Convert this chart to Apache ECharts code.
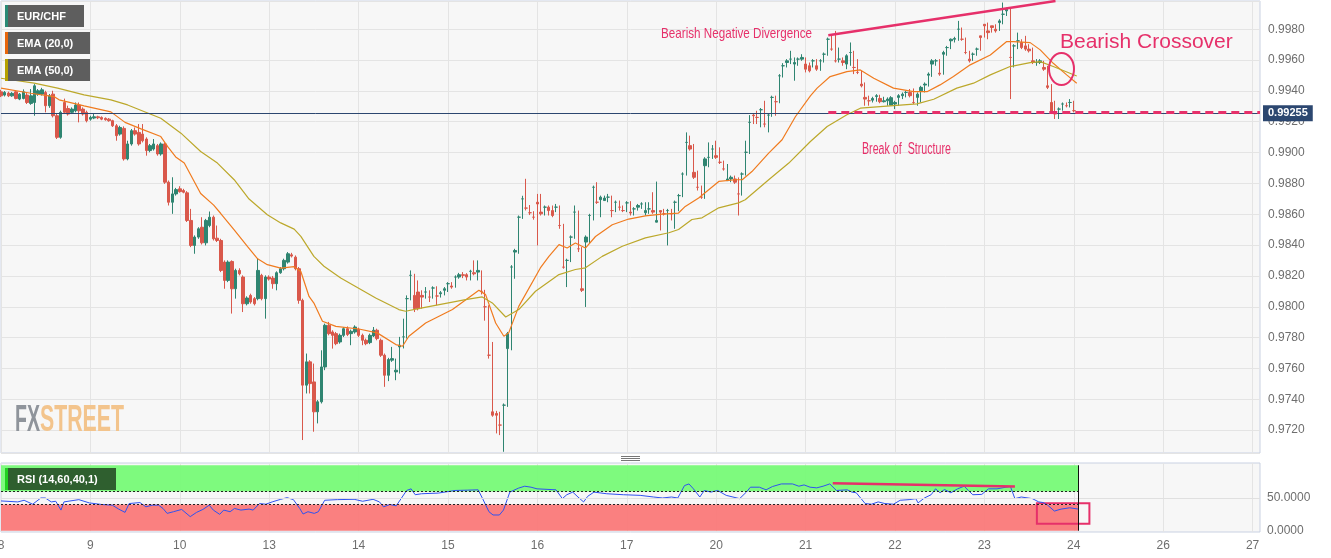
<!DOCTYPE html>
<html><head><meta charset="utf-8">
<script src="https://cdn.jsdelivr.net/npm/echarts@6/dist/echarts.min.js"></script>
<style>html,body{margin:0;padding:0;background:#fff;}#c{width:1331px;height:558px;}</style>
</head><body><div id="c"></div>
<script>
// ---- data (prices in pips: value / 10000) ----
const dayLabels = ['8','9','10','13','14','15','16','17','20','21','22','23','24','26','27'];
const hoursPerDay = 24;
const totalSlots = 339;
const priceTicks = [0.972,0.974,0.976,0.978,0.980,0.982,0.984,0.986,0.988,0.990,0.992,0.994,0.996,0.998];
const rsiTicks = [0, 50];
const opens = [9939.4,9937.3,9938.6,9936.8,9939.4,9934.7,9935.1,9937.3,9931.9,9932.5,9937.9,9937.9,9939.0,9930.4,9937.9,9923.9,9909.9,9932.5,9928.6,9926.1,9927.1,9930.8,9928.2,9926.1,9921.7,9922.4,9923.2,9922.8,9922.2,9921.7,9920.7,9917.4,9912.0,9915.7,9895.9,9905.6,9914.2,9913.1,9912.0,9908.8,9901.3,9902.3,9904.5,9899.1,9905.6,9880.8,9867.8,9873.2,9876.5,9875.4,9873.9,9856.0,9839.8,9845.2,9851.6,9841.5,9852.7,9858.1,9844.5,9843.0,9829.0,9817.1,9829.4,9811.7,9823.6,9819.3,9802.0,9807.4,9805.3,9805.3,9820.4,9805.3,9819.3,
9818.6,9815.0,9822.1,9824.7,9829.0,9833.7,9832.2,9824.7,9804.2,9749.2,9764.3,9751.3,9731.9,9738.4,9761.0,9788.0,9783.7,9782.6,9777.2,9781.5,9785.8,9782.6,9783.7,9785.4,9781.5,9778.3,9776.8,9781.1,9784.8,9778.3,9768.6,9755.6,9765.4,9757.8,9774.0,9780.5,9805.3,9820.4,9807.4,9809.6,9807.4,9809.6,9806.3,9812.2,9807.0,9808.5,9810.7,9815.0,9813.5,9819.3,9819.3,9820.8,9820.8,9823.0,9822.1,9822.5,9810.0,9800.0,9768.6,9731.9,9730.8,9723.3,9736.2,9772.9,9825.8,9835.5,9858.1,9870.0,9864.0,9861.0,9858.1,
9867.8,9861.4,9864.6,9864.6,9862.4,9864.6,9852.7,9825.7,9830.1,9845.2,9861.4,9837.6,9811.7,9842.0,9859.2,9877.5,9867.8,9869.5,9868.9,9871.1,9862.4,9867.8,9864.6,9862.4,9867.4,9861.4,9863.5,9864.6,9866.7,9861.0,9863.5,9862.4,9854.9,9862.4,9860.3,9862.4,9860.3,9867.8,9872.1,9886.1,9906.6,9904.5,9887.2,9877.5,9871.1,9891.5,9896.9,9902.3,9898.0,9893.7,9889.4,9881.8,9882.9,9882.9,9873.2,9886.1,9900.2,9919.6,9924.3,9922.8,9927.8,9918.5,9924.3,9935.8,9933.0,9949.8,9956.3,9958.4,9960.6,9957.4,9960.6,
9960.6,9957.4,9956.3,9959.5,9956.3,9959.5,9963.8,9973.5,9967.1,9959.5,9960.6,9959.5,9957.4,9964.9,9955.2,9952.0,9944.4,9935.8,9933.6,9934.0,9936.4,9935.1,9933.0,9933.6,9930.8,9931.5,9935.8,9936.9,9939.0,9939.0,9932.5,9935.8,9940.1,9943.8,9950.2,9957.4,9959.5,9951.5,9963.8,9968.1,9972.5,9973.5,9980.0,9973.5,9964.9,9960.6,9963.8,9967.1,9975.7,9983.2,9978.9,9982.2,9980.0,9984.3,9989.7,9991.9,9961.7,9969.2,9972.5,9971.4,9969.2,9967.1,9959.5,9958.4,9958.4,9955.2,9943.3,9932.5,9926.1,9928.2,9931.5,9930.4,9932.5,9927.2];
const closes = [9936.8,9939.0,9936.8,9938.4,9935.1,9937.9,9939.4,9932.5,9936.8,9943.3,9940.1,9940.7,9930.4,9936.8,9923.9,9909.9,9926.1,9926.1,9925.0,9928.2,9930.8,9927.1,9925.0,9920.7,9922.8,9923.2,9922.6,9921.7,9921.3,9920.7,9917.4,9911.0,9916.3,9895.9,9905.6,9914.2,9912.0,9905.6,9907.7,9901.3,9904.5,9905.6,9899.1,9905.6,9880.8,9867.8,9873.2,9876.0,9874.7,9874.3,9856.0,9839.8,9845.2,9850.6,9841.5,9856.0,9858.1,9844.1,9843.0,9823.6,9817.1,9829.0,9811.7,9823.6,9821.4,9802.0,9805.7,9803.1,9802.0,9823.6,9805.3,9819.3,9818.0,
9815.0,9822.1,9824.7,9830.1,9834.4,9832.9,9824.7,9804.2,9749.2,9764.3,9750.2,9731.9,9738.4,9761.0,9788.0,9782.6,9781.5,9776.1,9781.5,9785.8,9782.0,9784.1,9786.9,9781.5,9778.3,9776.1,9781.5,9784.8,9779.4,9768.6,9755.6,9765.8,9766.4,9758.9,9775.1,9780.5,9805.3,9820.4,9798.8,9798.8,9806.3,9809.6,9806.3,9812.2,9807.0,9809.1,9811.7,9815.0,9812.8,9819.3,9820.8,9820.4,9819.3,9823.0,9821.4,9823.6,9810.0,9800.0,9768.6,9729.7,9729.7,9723.3,9736.2,9782.6,9825.8,9836.5,9858.1,9870.0,9864.0,9861.0,9858.1,9866.7,
9860.3,9864.6,9862.4,9859.2,9864.6,9852.7,9825.7,9830.1,9845.2,9861.4,9837.6,9810.7,9845.2,9859.2,9877.5,9867.8,9871.1,9870.5,9871.1,9862.4,9867.8,9864.6,9862.4,9867.4,9860.8,9863.5,9865.7,9866.7,9862.4,9863.5,9861.4,9856.0,9861.4,9860.3,9862.4,9860.3,9867.8,9872.1,9886.1,9906.6,9902.3,9884.0,9877.5,9871.1,9895.9,9896.9,9902.3,9896.9,9893.7,9889.4,9882.9,9884.0,9880.8,9873.2,9886.1,9900.2,9919.6,9923.9,9922.8,9927.8,9918.5,9924.3,9935.8,9933.0,9949.8,9956.3,9959.5,9960.6,9958.4,9960.6,9961.7,
9954.1,9953.0,9959.5,9954.1,9959.5,9963.8,9973.5,9967.1,9959.5,9960.6,9958.4,9962.8,9964.9,9955.2,9952.0,9943.3,9934.7,9933.6,9935.1,9936.9,9933.0,9933.6,9934.7,9935.6,9932.5,9936.9,9937.9,9939.0,9936.9,9932.5,9937.9,9942.3,9944.4,9950.9,9959.5,9959.5,9950.9,9964.9,9968.1,9973.5,9974.0,9980.0,9973.5,9964.9,9959.5,9963.8,9967.1,9974.6,9982.2,9977.8,9981.1,9978.9,9985.4,9989.7,9993.0,9961.7,9969.2,9972.5,9968.1,9967.1,9966.0,9958.4,9958.4,9959.5,9954.1,9942.3,9926.1,9925.0,9928.2,9931.5,9930.4,9932.5,9927.2,9925.5];
const highs = [9940.7,9939.9,9939.5,9939.2,9940.3,9938.6,9941.0,9938.6,9941.2,9944.4,9941.2,9942.0,9940.1,9938.0,9940.1,9925.0,9927.2,9935.0,9930.4,9929.3,9932.5,9932.5,9929.3,9927.2,9923.9,9925.0,9923.9,9923.5,9922.8,9922.4,9921.3,9918.5,9917.4,9917.0,9907.7,9915.3,9916.3,9918.5,9918.5,9909.9,9905.6,9908.8,9905.6,9906.6,9906.6,9881.9,9884.0,9877.1,9878.2,9876.5,9875.0,9863.5,9846.3,9851.6,9858.1,9857.0,9861.8,9859.2,9852.7,9844.1,9830.1,9830.1,9830.1,9824.7,9825.0,9820.4,9806.8,9808.5,9806.3,9831.2,9821.4,9820.4,9820.4,
9820.0,9823.0,9825.8,9831.2,9835.5,9835.0,9833.3,9825.8,9805.3,9769.7,9765.4,9763.2,9739.5,9771.8,9789.1,9790.2,9784.8,9783.7,9782.6,9786.9,9787.3,9785.2,9788.0,9786.5,9782.6,9779.4,9782.6,9786.9,9785.8,9779.4,9769.7,9766.9,9774.0,9766.4,9780.5,9792.3,9807.4,9823.6,9821.4,9817.1,9810.7,9812.8,9810.7,9813.3,9813.3,9810.2,9812.8,9816.0,9816.0,9820.4,9822.0,9822.5,9821.8,9824.0,9830.1,9830.1,9823.6,9811.0,9801.0,9777.2,9732.5,9731.9,9737.3,9783.7,9827.0,9837.6,9859.2,9872.0,9883.0,9866.0,9862.0,9873.2,
9873.2,9865.7,9865.7,9865.7,9866.7,9865.7,9853.8,9831.2,9846.3,9865.7,9862.4,9838.7,9846.3,9860.3,9878.6,9880.8,9872.1,9872.1,9873.2,9872.1,9868.9,9868.9,9865.7,9868.5,9868.5,9864.6,9866.7,9867.8,9867.8,9867.8,9874.3,9881.2,9862.4,9863.5,9863.5,9863.5,9868.9,9873.2,9887.2,9913.1,9911.0,9905.6,9888.3,9878.6,9897.0,9906.6,9904.9,9907.7,9903.4,9894.8,9892.6,9885.1,9885.1,9883.9,9887.2,9907.7,9924.3,9925.0,9927.1,9928.9,9933.6,9925.4,9936.9,9936.9,9950.9,9958.0,9960.6,9966.0,9961.7,9961.7,9963.8,
9961.7,9958.4,9960.6,9960.6,9960.6,9964.9,9974.6,9975.7,9978.9,9968.1,9961.7,9963.8,9971.4,9966.0,9960.6,9953.0,9945.5,9936.9,9936.2,9937.9,9937.5,9936.2,9935.8,9936.6,9933.6,9937.9,9939.0,9940.1,9941.2,9941.6,9939.0,9943.3,9945.5,9952.0,9960.6,9960.6,9960.6,9966.0,9969.2,9974.0,9975.1,9985.4,9981.1,9974.6,9966.0,9964.9,9968.1,9975.7,9983.2,9984.3,9982.2,9983.2,9986.5,9997.3,9994.0,9994.0,9970.3,9977.8,9973.5,9975.7,9970.3,9968.1,9960.6,9960.6,9959.5,9956.3,9944.4,9933.6,9929.3,9932.5,9932.5,9934.7,9933.6,9928.2];
const lows = [9936.0,9936.4,9936.0,9936.2,9934.5,9934.0,9934.5,9931.5,9931.0,9923.9,9936.8,9937.0,9926.1,9929.0,9922.8,9908.8,9909.0,9925.0,9924.0,9925.0,9926.1,9919.6,9924.0,9919.6,9920.7,9921.7,9921.7,9921.0,9920.7,9920.0,9916.6,9907.7,9911.0,9894.8,9895.0,9904.5,9911.0,9904.5,9906.6,9898.0,9900.2,9901.3,9898.0,9898.0,9879.7,9865.7,9860.3,9872.1,9874.0,9873.6,9855.0,9838.7,9834.4,9844.1,9840.4,9839.8,9851.6,9843.0,9842.0,9822.5,9811.7,9816.0,9795.6,9805.3,9820.4,9796.6,9800.9,9802.0,9800.9,9804.2,9804.2,9792.3,9817.0,
9811.7,9810.7,9821.4,9823.6,9828.0,9832.0,9823.6,9802.0,9713.6,9743.8,9743.8,9719.0,9724.4,9737.3,9758.9,9781.5,9772.9,9775.1,9776.1,9780.4,9781.0,9775.1,9782.6,9780.4,9775.1,9775.1,9775.8,9780.4,9778.3,9767.5,9748.1,9751.8,9764.3,9752.4,9756.7,9773.0,9779.4,9804.2,9796.6,9797.7,9798.8,9805.3,9803.1,9805.3,9801.0,9806.0,9807.4,9809.6,9811.7,9812.4,9818.2,9818.6,9817.1,9817.1,9820.4,9817.1,9808.0,9791.0,9766.4,9728.7,9717.9,9716.8,9706.0,9735.1,9771.8,9818.2,9834.4,9857.0,9862.5,9859.5,9856.5,9839.8,
9859.2,9859.2,9859.2,9858.1,9861.4,9850.6,9824.7,9812.8,9829.0,9844.1,9835.5,9809.6,9799.9,9841.0,9856.0,9866.7,9858.1,9868.9,9867.8,9858.1,9861.4,9862.4,9861.4,9861.4,9859.2,9859.2,9862.4,9863.5,9859.2,9860.3,9860.3,9855.0,9849.5,9859.2,9839.8,9856.0,9850.6,9862.0,9871.1,9885.1,9901.3,9882.9,9875.4,9870.0,9870.0,9890.5,9895.9,9895.9,9892.6,9888.3,9881.8,9880.8,9879.7,9859.2,9872.1,9885.1,9899.1,9918.5,9918.5,9916.4,9916.4,9913.1,9923.2,9923.9,9932.0,9948.7,9955.2,9957.4,9946.6,9956.3,9959.5,
9952.0,9952.0,9955.2,9953.0,9953.0,9958.4,9962.8,9966.0,9958.4,9958.4,9956.3,9954.1,9956.3,9950.9,9950.9,9942.3,9930.4,9930.4,9932.5,9933.0,9932.0,9932.5,9930.4,9932.5,9928.2,9930.4,9934.7,9935.8,9935.8,9931.5,9930.4,9932.5,9939.0,9942.8,9949.1,9956.3,9949.8,9950.5,9962.8,9967.1,9971.4,9972.5,9972.5,9963.8,9958.4,9959.5,9962.8,9966.0,9974.6,9973.5,9977.8,9977.8,9978.9,9983.2,9988.6,9934.7,9955.2,9967.1,9967.1,9966.0,9964.9,9957.4,9956.3,9957.4,9953.0,9941.2,9925.0,9921.8,9921.8,9927.2,9929.3,9929.3,9926.1,9922.8];
const ema20Slot = [0,8.0,14.2,15.6,22.3,29.5,33.3,37.6,42.9,44.8,46.9,49.2,53.6,57.1,59.0,62.6,66.2,68.9,71.5,75.1,78.7,80.5,82.7,84.0,86.3,89.9,96.1,101.0,106.0,107.8,109.5,114.0,121.2,128.3,130.1,132.8,135.0,136.3,139.0,144.8,147.1,149.8,152.0,154.2,156.9,159.6,164.1,168.5,173.0,177.5,181.9,183.7,187.3,190.0,192.7,197.2,199.0,201.6,206.1,209.7,213.3,217.3,219.1,222.6,227.1,230.7,234.3,239.6,245.0,248.6,252.1,255.7,260.2,265.6,270.0,271.8,276.3,279.0,282.5,286.1,288.8];
const ema20Val = [9941.8,9938.5,9936.3,9934.2,9930.3,9926.4,9919.6,9915.4,9910.4,9903.7,9897.2,9893.2,9873.5,9865.9,9860.5,9849.9,9839.1,9831.1,9827.3,9825.1,9826.0,9822.9,9806.7,9802.4,9790.6,9787.3,9785.6,9783.1,9775.5,9774.4,9780.9,9789.5,9798.2,9810.7,9807.9,9789.5,9780.9,9783.1,9800.3,9825.2,9832.7,9840.3,9838.1,9841.4,9838.1,9845.6,9853.2,9856.9,9859.0,9860.1,9860.8,9865.1,9870.5,9875.9,9881.3,9882.4,9882.4,9887.7,9899.7,9908.3,9923.4,9936.8,9941.8,9949.3,9952.5,9953.6,9948.2,9941.8,9939.5,9939.5,9943.9,9949.3,9956.9,9963.3,9972.0,9972.0,9971.3,9966.6,9957.9,9950.4,9945.0];
const ema50Slot = [0,8.9,15.2,22.3,29.5,34.0,42.9,48.3,53.6,58.1,62.6,66.6,71.5,75.1,78.7,80.5,84.0,86.7,91.2,100.6,106.8,108.6,113.1,124.7,129.2,131.9,135.5,139.0,143.5,149.8,154.2,156.9,161.4,166.8,173.0,179.3,181.9,185.5,188.2,192.7,198.0,199.8,206.1,211.5,217.3,221.8,227.1,230.7,238.7,245.9,250.4,256.6,261.1,265.6,270.9,276.3,279.0,282.5,288.8];
const ema50Val = [9948.2,9945.0,9941.8,9937.4,9934.2,9930.9,9922.3,9912.6,9900.7,9893.2,9882.4,9869.9,9859.7,9854.4,9850.4,9845.7,9832.7,9826.3,9818.7,9805.7,9798.2,9797.1,9799.3,9804.6,9806.4,9802.5,9793.4,9798.2,9810.1,9820.9,9824.2,9825.3,9832.7,9839.3,9844.7,9848.0,9850.1,9856.6,9857.7,9864.2,9867.4,9869.4,9882.4,9893.2,9907.2,9916.9,9924.5,9928.8,9930.3,9931.6,9934.6,9941.8,9945.0,9950.4,9955.8,9958.3,9959.0,9955.8,9949.7];
const rsiSlot = [0,4.5,6.2,8.5,10.7,11.9,13.5,14.7,16.1,16.9,20.9,23.7,27.1,29.9,31.6,33.3,34.4,37.3,38.9,40.6,42.3,43.5,44.6,46.3,48.5,50.8,52.5,54.2,55.9,57,58.7,59.8,61.5,62.7,64.4,66.6,67.7,69.4,71.1,72.8,75.1,76.8,78.5,80.2,81.1,82.4,84.1,85.2,86.9,90.3,94.8,97.1,99.9,101.6,102.7,104.4,106.1,108.9,110.1,111.2,112.9,117.4,121.9,125.3,128.1,129.3,131,132.1,133.8,134.9,136.6,138.9,140.6,142.3,143.9,149,150.7,151.9,153.5,154.9,156.4,157.5,159.2,162.6,167.1,171.6,175.2,177.6,180,181.7,183.5,184.7,185.9,187.6,188.8,190.6,192.4,194.7,196.5,198.3,200.1,201.2,203.6,205.4,207.1,209.5,212.5,214.2,215.6,217.2,219,220.7,222.5,224.3,227.2,228.4,229.6,232,233.7,235.5,237.3,239.6,241.4,243.8,245.6,246.2,247.9,249.7,250.9,252.1,253.3,255,256.8,258.6,259.7,260.9,263.3,265.1,267.4,269.8,271,272.2,273.9,276.9,278.6,279.8,281,282.8,284.6,286.9,289.3];
const rsiVal = [45.5,44,46.5,40.5,50,50,44,45,31.5,44,47.5,42.5,40,39,33,28,41.5,43,36.5,39,39,34,26.5,29,32.5,21.5,28,32.5,39,31.5,25,31.5,29,34,31.5,33,31.5,41.5,40.5,44,48,50.5,47.5,34,25.5,29,26.5,29,46.5,47.5,48,45,48,44,36.5,40,38,61.5,64,55,56.5,57.5,61.5,62,62.5,49,29,24,24,31.5,59,65,68,66.5,64,62.5,49,55,59,51.5,44,52.5,59,56.5,55,54,51.5,50,51.5,50,69,71.5,64,51.5,61.5,59,61.5,54,51.5,49,59,66.5,66.5,62.5,67.5,71.5,71.5,68,70,66.5,65.5,68,71.5,61.5,62.5,59,58,41.5,40.5,44,41.5,40.5,46.5,47.5,49,42.5,50,55,64,58,63,58,64,68,61.5,55,55.5,64,64,66.5,67.5,49,51.5,49,44,43,39,30,33,35,33];
const lastPrice = 0.99255;
const breakLevel = 0.99264;
const divergencePrice = [[222.1, 0.99761], [283.1, 0.99983]];
const divergenceRsi = [[223.3, 72.5], [272.2, 67.6]];
const rsiBox = [[278.1, 10.5], [292.2, 42]];
const lastSlot = 289.3;

// ---- styling ----
const PINK = '#e6306a';
const UP = '#2f8571', DOWN = '#d9584b';
const FONT = 'Liberation Sans, Arial, sans-serif';
const mctx = document.createElement('canvas').getContext('2d');
function fitScale(text, font, target) { mctx.font = font; return target / mctx.measureText(text).width; }

const cats = Array.from({length: totalSlots}, (_, i) => String(i));
const candleData = opens.map((o, i) => [o / 1e4, closes[i] / 1e4, lows[i] / 1e4, highs[i] / 1e4]);
const ema20 = ema20Slot.map((s, i) => [s, ema20Val[i] / 1e4]);
const ema50 = ema50Slot.map((s, i) => [s, ema50Val[i] / 1e4]);
const rsi = rsiSlot.map((s, i) => [s, rsiVal[i]]);
const dayTick = (idx) => idx % hoursPerDay === 0;
const dayFmt = (v, idx) => (idx % hoursPerDay === 0 && dayLabels[idx / hoursPerDay]) ? dayLabels[idx / hoursPerDay] : '';
const gridCol = '#e4e4e4';

const chart = echarts.init(document.getElementById('c'), null, {renderer: 'canvas'});

function legendBox(y, w, stripe, bg, label) {
  return [
    {type: 'rect', shape: {x: 5, y: y, width: w, height: 22}, style: {fill: bg}, z: 100},
    {type: 'rect', shape: {x: 5, y: y, width: 3, height: 22}, style: {fill: stripe}, z: 101},
    {type: 'text', x: 17, y: y + 11.5, style: {text: label, fill: '#fff', font: 'bold 11px ' + FONT, verticalAlign: 'middle', align: 'left'}, z: 102}
  ];
}

const fontBND = '15px ' + FONT;
const fontBOS = '16px ' + FONT;
const fontWM = 'bold 36px ' + FONT;

const graphics = [].concat(
  legendBox(5, 79, '#2a8a75', '#5e5e5e', 'EUR/CHF'),
  legendBox(32, 85, '#e8660c', '#5e5e5e', 'EMA (20,0)'),
  legendBox(59, 85, '#b5a100', '#5e5e5e', 'EMA (50,0)'),
  legendBox(468, 111, '#22d022', '#2f5f2f', 'RSI (14,60,40,1)'),
  [
    {type: 'text', x: 15, y: 421, scaleX: fitScale('FX', fontWM, 25), style: {text: 'FX', font: fontWM, fill: '#8f949b', verticalAlign: 'middle'}, z: 1},
    {type: 'text', x: 40, y: 421, scaleX: fitScale('STREET', fontWM, 84), style: {text: 'STREET', font: fontWM, fill: '#f3c48c', verticalAlign: 'middle'}, z: 1},
    {type: 'text', x: 661, y: 33.5, scaleX: fitScale('Bearish Negative Divergence', fontBND, 151), style: {text: 'Bearish Negative Divergence', font: fontBND, fill: PINK, verticalAlign: 'middle'}, z: 50},
    {type: 'text', x: 862, y: 149.5, scaleX: fitScale('Break of  Structure', fontBOS, 89), style: {text: 'Break of  Structure', font: fontBOS, fill: PINK, verticalAlign: 'middle'}, z: 50},
    {type: 'text', x: 1060, y: 42.5, style: {text: 'Bearish Crossover', font: '21px ' + FONT, fill: PINK, verticalAlign: 'middle'}, z: 50},
    {type: 'ellipse', shape: {cx: 1061.5, cy: 69, rx: 12.5, ry: 16}, style: {fill: 'none', stroke: PINK, lineWidth: 2}, z: 50},
    {type: 'line', shape: {x1: 621, y1: 456.5, x2: 640, y2: 456.5}, style: {stroke: '#777', lineWidth: 1}},
    {type: 'line', shape: {x1: 621, y1: 458.5, x2: 640, y2: 458.5}, style: {stroke: '#777', lineWidth: 1}},
    {type: 'line', shape: {x1: 621, y1: 460.5, x2: 640, y2: 460.5}, style: {stroke: '#777', lineWidth: 1}}
  ]
);

const option = {
  animation: false,
  backgroundColor: '#ffffff',
  textStyle: {fontFamily: FONT},
  grid: [
    {left: 1, right: 71, top: 1, height: 452, show: true, backgroundColor: '#f7f7f7', borderColor: '#c9d1e2', borderWidth: 1, outerBoundsMode: 'none', containLabel: false},
    {left: 1, right: 71, top: 463, height: 69, show: true, backgroundColor: '#f7f7f7', borderColor: '#c9d1e2', borderWidth: 1, outerBoundsMode: 'none', containLabel: false}
  ],
  xAxis: [
    {type: 'category', gridIndex: 0, data: cats, boundaryGap: false,
     axisLine: {show: false}, axisTick: {show: false}, axisLabel: {show: false, interval: dayTick},
     splitLine: {show: true, interval: dayTick, lineStyle: {color: gridCol}}},
    {type: 'category', gridIndex: 1, data: cats, boundaryGap: false,
     axisLine: {show: false}, axisTick: {show: false},
     axisLabel: {show: true, interval: dayTick, formatter: dayFmt, color: '#6e6e6e', fontSize: 12, margin: 8},
     splitLine: {show: true, interval: dayTick, lineStyle: {color: gridCol}}},
    {type: 'value', gridIndex: 0, min: 0, max: totalSlots - 1, show: false},
    {type: 'value', gridIndex: 1, min: 0, max: totalSlots - 1, show: false}
  ],
  yAxis: [
    {type: 'value', gridIndex: 0, position: 'right', min: 0.97052, max: 0.99983, minInterval: 0.002, maxInterval: 0.002, splitNumber: 14,
     axisLine: {show: false}, axisTick: {show: false},
     axisLabel: {color: '#6e6e6e', fontSize: 12, margin: 8, showMinLabel: false, showMaxLabel: false,
       formatter: (v) => priceTicks.some(t => Math.abs(t - v) < 1e-7) ? v.toFixed(4) : ''},
     splitLine: {show: true, lineStyle: {color: gridCol}}},
    {type: 'value', gridIndex: 1, position: 'right', min: -2, max: 103.5, minInterval: 50, maxInterval: 50,
     axisLine: {show: false}, axisTick: {show: false}, splitLine: {show: false},
     axisLabel: {color: '#6e6e6e', fontSize: 12, margin: 7, showMinLabel: false, showMaxLabel: false,
       formatter: (v) => rsiTicks.some(t => Math.abs(t - v) < 1e-7) ? v.toFixed(4) : ''}}
  ],
  series: [
    {type: 'candlestick', xAxisIndex: 0, yAxisIndex: 0, data: candleData, barWidth: 3, z: 3,
     itemStyle: {color: UP, color0: DOWN, borderColor: UP, borderColor0: DOWN, borderWidth: 1}},
    {type: 'line', name: 'EMA (20,0)', xAxisIndex: 2, yAxisIndex: 0, data: ema20, symbol: 'none', z: 4,
     lineStyle: {color: '#f07b1f', width: 1.2},
     markLine: {symbol: ['none', 'none'], silent: true,
       data: [
         [{coord: [0, lastPrice], lineStyle: {color: '#2c4770', width: 1, type: 'solid'},
           label: {show: true, position: 'end', formatter: '0.99255', color: '#fff', backgroundColor: '#2c4770', fontWeight: 'bold', fontSize: 11, padding: [3, 5, 2, 5], distance: 3}},
          {coord: [totalSlots - 1, lastPrice]}]
       ]}},
    {type: 'line', name: 'EMA (50,0)', xAxisIndex: 2, yAxisIndex: 0, data: ema50, symbol: 'none', z: 4,
     lineStyle: {color: '#bca82b', width: 1.2},
     markLine: {symbol: ['none', 'none'], silent: true, label: {show: false},
       data: [
         [{coord: [divergencePrice[0][0], breakLevel], lineStyle: {color: PINK, width: 3, type: [8, 5]}}, {coord: [totalSlots - 1, breakLevel]}],
         [{coord: divergencePrice[0], lineStyle: {color: PINK, width: 2.5, type: 'solid'}}, {coord: divergencePrice[1]}]
       ]}},
    {type: 'line', xAxisIndex: 3, yAxisIndex: 1, data: [], z: 1, silent: true,
     markArea: {silent: true, data: [
       [{coord: [0, 60], itemStyle: {color: 'rgba(118,250,118,0.94)'}}, {coord: [lastSlot, 100]}],
       [{coord: [0, 0], itemStyle: {color: 'rgba(250,120,120,0.94)'}}, {coord: [lastSlot, 40]}]
     ]},
     markLine: {symbol: ['none', 'none'], silent: true, label: {show: false},
       data: [
         [{coord: [0, 50], lineStyle: {color: '#e0e0e0', width: 1, type: 'solid'}}, {coord: [totalSlots - 1, 50]}],
         [{coord: [0, 60], lineStyle: {color: '#222', width: 1, type: [2, 2]}}, {coord: [lastSlot, 60]}],
         [{coord: [0, 40], lineStyle: {color: '#222', width: 1, type: [2, 2]}}, {coord: [lastSlot, 40]}],
         [{coord: [lastSlot, 0], lineStyle: {color: '#111', width: 1, type: 'solid'}}, {coord: [lastSlot, 100]}]
       ]}},
    {type: 'line', name: 'RSI', xAxisIndex: 3, yAxisIndex: 1, data: rsi, symbol: 'none', z: 4,
     lineStyle: {color: '#2f52f0', width: 1},
     markArea: {silent: true, data: [
       [{coord: rsiBox[0], itemStyle: {color: 'rgba(0,0,0,0)', borderColor: PINK, borderWidth: 2}}, {coord: rsiBox[1]}]
     ]},
     markLine: {symbol: ['none', 'none'], silent: true, label: {show: false},
       data: [
         [{coord: divergenceRsi[0], lineStyle: {color: PINK, width: 2.5, type: 'solid'}}, {coord: divergenceRsi[1]}]
       ]}}
  ],
  graphic: graphics
};
chart.setOption(option);
</script>
</body></html>
